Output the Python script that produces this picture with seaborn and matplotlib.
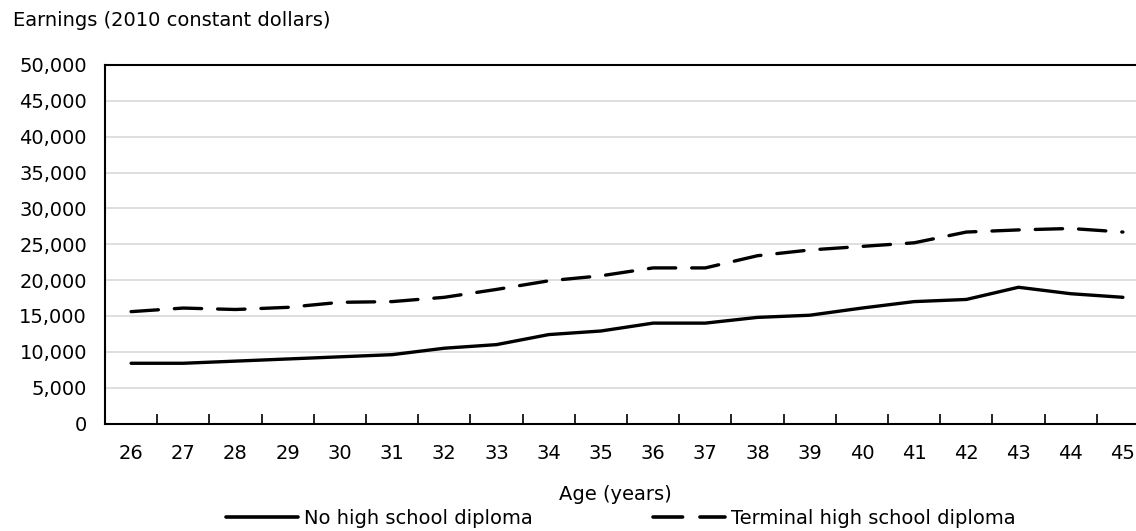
"""Earnings by age for two education groups, 2010 constant dollars."""
import matplotlib
matplotlib.use("Agg")
import matplotlib.pyplot as plt
import seaborn as sns
import pandas as pd
from matplotlib.ticker import FuncFormatter, FixedLocator

ages = list(range(26, 46))
no_diploma = [8400, 8400, 8700, 9000, 9300, 9600, 10500, 11000, 12400, 12900,
              14000, 14000, 14800, 15100, 16100, 17000, 17300, 19000, 18100, 17600]
hs_diploma = [15600, 16100, 15900, 16200, 16900, 17000, 17600, 18700, 19900, 20600,
              21700, 21700, 23400, 24200, 24700, 25200, 26700, 27000, 27200, 26700]
series_names = ["No high school diploma", "Terminal high school diploma"]
y_ticks = list(range(0, 50001, 5000))

df = pd.DataFrame({
    "age": ages * 2,
    "earnings": no_diploma + hs_diploma,
    "group": [series_names[0]] * len(ages) + [series_names[1]] * len(ages),
})

sns.set_theme(style="white")
plt.rcParams["font.family"] = ["DejaVu Sans"]
plt.rcParams["text.color"] = "black"
FS = 14

W, H = 1136, 531
fig = plt.figure(figsize=(W / 100, H / 100), dpi=100)
# plot area runs past the right edge of the picture, as in the original
ax = fig.add_axes([105 / W, (H - 423.5) / H, (1149 - 105) / W, (423.5 - 65) / H])

sns.lineplot(data=df, x="age", y="earnings", style="group",
             dashes={series_names[0]: "", series_names[1]: (8.2, 4.8)},
             color="black", linewidth=2.4, ax=ax, legend=True)
for line in ax.lines:
    line.set_dash_capstyle("round")
    line.set_solid_capstyle("round")

handles, labels = ax.get_legend_handles_labels()
ax.get_legend().remove()

ax.set_xlim(ages[0] - 0.5, ages[-1] + 0.5)
ax.set_ylim(0, 50000)
ax.set_xticks(ages)
ax.set_xticklabels([str(a) for a in ages])
ax.xaxis.set_minor_locator(FixedLocator([a + 0.5 for a in ages[:-1]]))
ax.set_yticks(y_ticks)
ax.yaxis.set_major_formatter(FuncFormatter(lambda v, p: f"{int(v):,}"))

ax.tick_params(axis="x", which="major", length=0, pad=15, labelsize=FS, colors="black")
ax.tick_params(axis="x", which="minor", bottom=True, direction="in", length=7,
               width=1.2, color="black")
ax.tick_params(axis="y", length=0, pad=13, labelsize=FS, colors="black")

ax.grid(axis="y", color="#d9d9d9", linewidth=1.2)
ax.grid(axis="x", visible=False)
for s in ax.spines.values():
    s.set_color("black")
    s.set_linewidth(1.5)

ax.set_xlabel("")
ax.set_ylabel("")

fig.text(13 / W, 1 - 21 / H, "Earnings (2010 constant dollars)", fontsize=FS,
         ha="left", va="center", color="black")
fig.text(615 / W, 1 - 494 / H, "Age (years)", fontsize=FS, ha="center", va="center",
         color="black")

for h in handles:
    h.set_linewidth(2.6)
    h.set_dash_capstyle("round")
fig.legend(handles, labels, loc="center", bbox_to_anchor=(621 / W, 1 - 518 / H),
           ncol=2, frameon=False, fontsize=FS, handlelength=3.7, handletextpad=0.3,
           columnspacing=6.2, borderpad=0, borderaxespad=0, labelcolor="black")

fig.savefig("out.png", dpi=100)
